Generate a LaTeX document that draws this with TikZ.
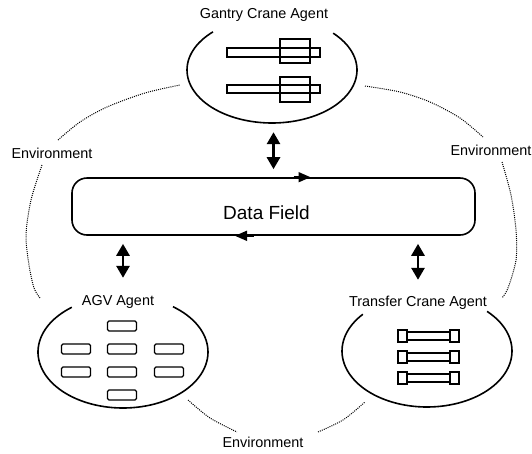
\documentclass[tikz,border=0pt]{standalone}
\usepackage{fontspec}
\setmainfont{Liberation Sans}
\usetikzlibrary{shapes.geometric,arrows.meta,calc}
\begin{document}
\begin{tikzpicture}[x=1pt,y=-1pt,
  lbl/.style={font=\fontsize{14.4}{17}\selectfont, inner sep=0pt},
  agentline/.style={line width=1.6pt},
  envline/.style={line width=1.0pt, dash pattern=on 1pt off 1.1pt},
  dbl/.style={line width=2.8pt, {Triangle[width=13pt,length=12pt]}-{Triangle[width=13pt,length=12pt]}},
  flow/.style={line width=1.6pt, -{Triangle[width=10pt,length=12pt]}},
  part/.style={line width=1.3pt},
  agvbox/.style={draw, line width=1.3pt, rounded corners=1.5pt, minimum width=29pt, minimum height=10pt, inner sep=0pt},
  agent/.style={ellipse, inner sep=0pt}
]
\useasboundingbox (0,0) rectangle (532,453);

% agent ellipses (named, outline drawn as open arcs)
\node[agent, minimum width=170pt, minimum height=106pt] (gc) at (272,70) {};
\node[agent, minimum width=170pt, minimum height=112pt] (agv) at (123,352) {};
\node[agent, minimum width=170pt, minimum height=112pt] (tc) at (427,351) {};
\draw[agentline] plot[domain=-44:226, samples=90, smooth] ({272+85*cos(\x)},{70+53*sin(\x)});
\draw[agentline] plot[domain=-54:233, samples=90, smooth] ({123+85*cos(\x)},{352+56*sin(\x)});
\draw[agentline] plot[domain=-45:221, samples=90, smooth] ({427+85*cos(\x)},{351+56*sin(\x)});

% agent labels
\node[lbl] (gcl) at (264,15) {Gantry Crane Agent};
\node[lbl] (agvl) at (118,302) {AGV Agent};
\node[lbl] (tcl) at (418,303) {Transfer Crane Agent};

% gantry crane icons
\draw[part] (227,48) rectangle (320,57);
\draw[part] (280,39) rectangle (310,63);
\draw[part] (227,85) rectangle (320,93);
\draw[part] (280,77) rectangle (310,102);

% AGV icons
\foreach \p/\q in {122/326, 76/349, 122/349, 169/349, 76/372, 122/372, 169/372, 122/395}
  \node[agvbox] at (\p,\q) {};

% transfer crane icons
\foreach \r in {336,357,378} {
  \draw[part] (407,\r-4) rectangle (450,\r+4);
  \draw[part] (398,\r-6) rectangle (407,\r+6);
  \draw[part] (450,\r-6) rectangle (459,\r+6);
}

% data field
\node[draw, line width=1.6pt, rounded corners=15pt, minimum width=403pt, minimum height=57pt, inner sep=0pt] (df) at (273.5,206.5) {};
\node[font=\fontsize{19}{22}\selectfont, inner sep=0pt] (dft) at (266.5,213) {Data Field};
\draw[flow] ([xshift=20pt]df.north) -- ([xshift=37pt]df.north);
\draw[flow] ([xshift=-20pt]df.south) -- ([xshift=-38.5pt]df.south);

% double arrows
\draw[dbl] ([yshift=-9pt]gc.south -| df.north) -- ([yshift=8pt]df.north);
\draw[dbl] ([yshift=-8pt]df.south -| agv.center) -- ([yshift=18pt]agv.north);
\draw[dbl] ([yshift=-8pt]df.south -| tcl.north) -- ([yshift=15pt]tc.north -| tcl.north);

% environment
\node[lbl] (envl) at (52,153) {Environment};
\node[lbl] (envr) at (491,150) {Environment};
\node[lbl] (envb) at (263,442) {Environment};
\draw[envline] plot[smooth] coordinates {(58,140) (80,122) (107,107) (145,93) (180,85)};
\draw[envline] plot[smooth] coordinates {(42,165) (31,200) (26,235) (29,265) (34,288) (40,298)};
\draw[envline] plot[smooth] coordinates {(188,400) (210,418) (237,432)};
\draw[envline] plot[smooth] coordinates {(318,432) (343,420) (365,402)};
\draw[envline] plot[smooth] coordinates {(502,162) (511,195) (516,230) (516,260) (508,288) (502,298)};
\draw[envline] plot[smooth] coordinates {(365,86) (400,92) (430,102) (460,118) (483,137)};
\end{tikzpicture}
\end{document}
